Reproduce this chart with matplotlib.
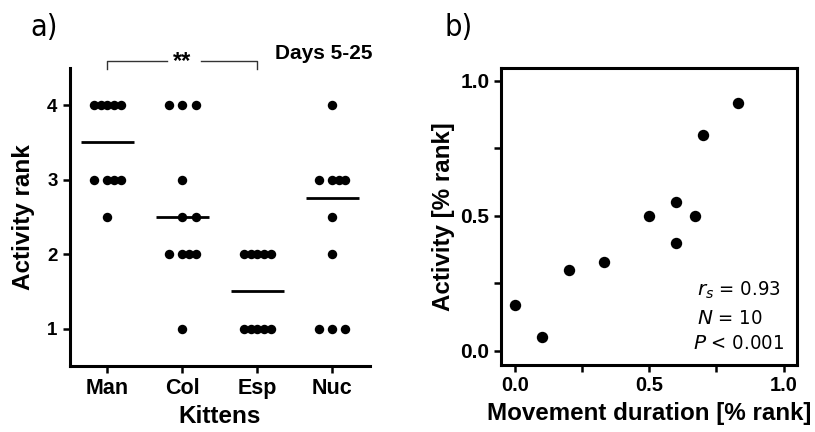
import numpy as np
import matplotlib
matplotlib.use("Agg")
import matplotlib.pyplot as plt

plt.rcParams["font.family"] = ["Liberation Sans", "DejaVu Sans"]

# panel a: activity rank per kitten group
groups = ["Man", "Col", "Esp", "Nuc"]
man = [4, 4, 4, 4, 4, 3, 3, 3, 3, 2.5]
col = [4, 4, 4, 3, 2.5, 2.5, 2, 2, 2, 2, 1]
esp = [2, 2, 2, 2, 2, 1, 1, 1, 1, 1]
nuc = [4, 3, 3, 3, 3, 2.5, 2, 1, 1, 1]
a_yticks = [1, 2, 3, 4]

# panel b: movement duration vs activity (% rank)
move_dur = [0.0, 0.10, 0.20, 0.33, 0.50, 0.60, 0.60, 0.67, 0.70, 0.83]
activity = [0.17, 0.05, 0.30, 0.33, 0.50, 0.55, 0.40, 0.50, 0.80, 0.92]
b_ticks = [0.0, 0.5, 1.0]

fig = plt.figure(figsize=(8.15, 4.32), dpi=100)
ax1 = fig.add_axes([0.0859, 0.1528, 0.368, 0.690])
ax2 = fig.add_axes([0.6143, 0.155, 0.3636, 0.6876])

# spread of dots with the same value (prism-like column scatter)
spread = {1: [0], 2: [0, 2], 3: [-2, 0, 2], 4: [-2, 0, 1, 2], 5: [-2, -1, 0, 1, 2]}
step = 0.087

for i, vals in enumerate([man, col, esp, nuc]):
    vals = np.array(vals, dtype=float)
    for v in np.unique(vals):
        n = int(np.sum(vals == v))
        xs = i + np.array(spread[n]) * step
        ax1.plot(xs, [v] * n, "o", color="black", markersize=6.8,
                 markeredgewidth=0, clip_on=False, zorder=3)
    med = np.median(vals)
    ax1.plot([i - 0.35, i + 0.35], [med, med], color="black", lw=2.0,
             solid_capstyle="butt", zorder=2)

ax1.set_xlim(-0.5, 3.5)
ax1.set_ylim(0.5, 4.5)
ax1.set_xticks(range(len(groups)))
ax1.set_xticklabels(groups, fontsize=15.5, fontweight="bold")
ax1.set_yticks(a_yticks)
ax1.set_yticklabels([str(t) for t in a_yticks], fontsize=13.5, fontweight="bold")
ax1.spines["top"].set_visible(False)
ax1.spines["right"].set_visible(False)
for s in ["left", "bottom"]:
    ax1.spines[s].set_linewidth(2.2)
ax1.tick_params(width=1.8, length=5, pad=4)
ax1.set_xlabel("Kittens", fontsize=17.5, fontweight="bold", labelpad=4)
ax1.set_ylabel("Activity rank", fontsize=17.5, fontweight="bold", labelpad=9)

# significance bracket Man vs Esp
by, bt = 4.587, 4.49
ax1.plot([0, 0, 0.79], [bt, by, by], color="#333333", lw=1.0, clip_on=False)
ax1.plot([1.25, 2, 2], [by, by, bt], color="#333333", lw=1.0, clip_on=False)
ax1.text(1.0, by, "**", ha="center", va="center", fontsize=17,
         fontweight="bold")
ax1.text(3.53, 4.69, "Days 5-25", ha="right", va="center", fontsize=15,
         fontweight="bold")

# panel b
ax2.plot(move_dur, activity, "o", color="black", markersize=8.2,
         markeredgewidth=0, zorder=3)
ax2.set_xlim(-0.053, 1.05)
ax2.set_ylim(-0.053, 1.048)
ax2.set_xticks(b_ticks)
ax2.set_xticklabels([f"{t:.1f}" for t in b_ticks], fontsize=14.5, fontweight="bold")
ax2.set_yticks(b_ticks)
ax2.set_yticklabels([f"{t:.1f}" for t in b_ticks], fontsize=15, fontweight="bold")
ax2.set_xticks([0.25, 0.75], minor=True)
ax2.set_yticks([0.25, 0.75], minor=True)
for s in ax2.spines.values():
    s.set_linewidth(2.2)
ax2.tick_params(which="both", width=1.8, length=5, pad=3)
ax2.set_xlabel("Movement duration [% rank]", fontsize=17.4, fontweight="bold",
               labelpad=5)
ax2.set_ylabel("Activity [% rank]", fontsize=17.4, fontweight="bold", labelpad=4)

stat_kw = dict(transform=ax2.transAxes, fontsize=14.5, va="center",
               fontstretch="condensed", family="DejaVu Sans")
ax2.text(0.662, 0.2525, r"$r_s$ = 0.93", ha="left", **stat_kw)
ax2.text(0.662, 0.158, r"$N$ = 10", ha="left", **stat_kw)
ax2.text(0.955, 0.074, r"$P$ < 0.001", ha="right", **stat_kw)

fig.text(0.037, 0.937, "a)", fontsize=22, va="center", fontstretch="condensed",
         family="DejaVu Sans")
fig.text(0.546, 0.937, "b)", fontsize=22, va="center", fontstretch="condensed",
         family="DejaVu Sans")

fig.savefig("out.png", dpi=100)
